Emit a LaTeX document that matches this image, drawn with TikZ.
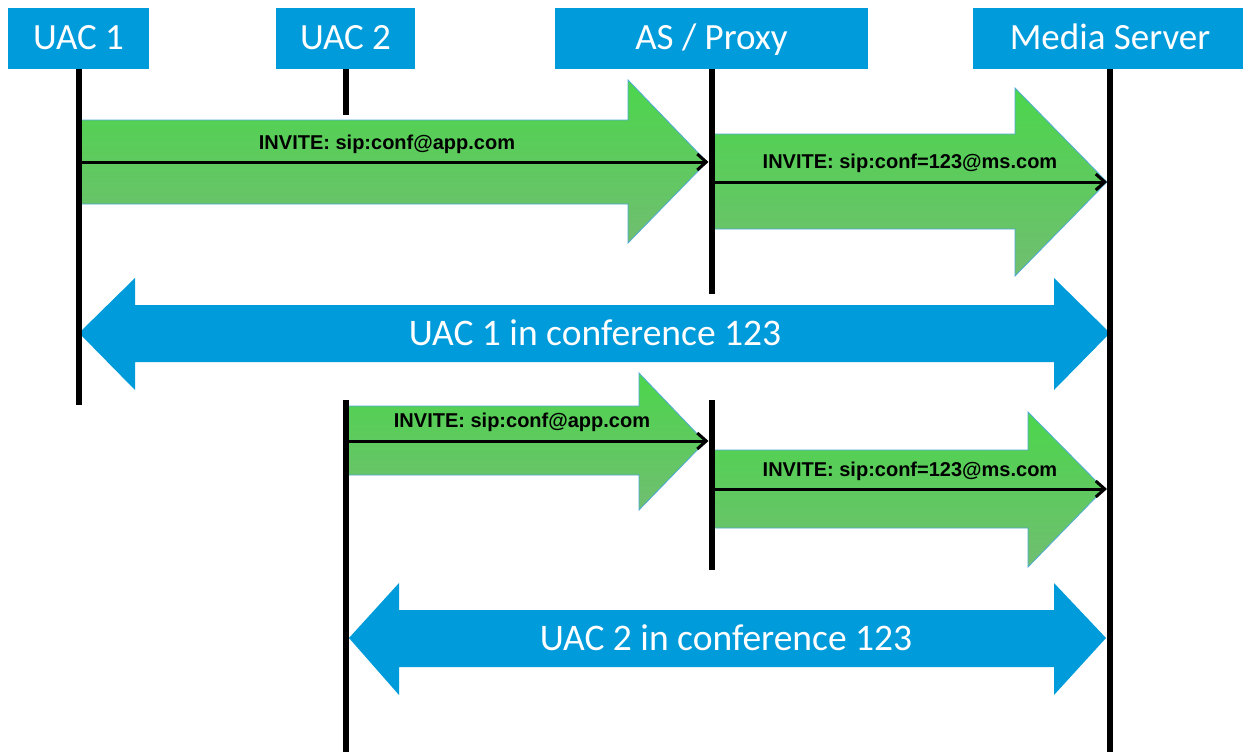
\documentclass[tikz,border=0pt]{standalone}
\usepackage{fontspec}
\setmainfont{Carlito}
\newfontfamily\arialfont{Liberation Sans}
\usetikzlibrary{arrows.meta}
\definecolor{sipblue}{RGB}{0,155,219}
\definecolor{greentop}{RGB}{76,214,76}
\definecolor{greenbot}{RGB}{112,190,112}
\definecolor{greenedge}{RGB}{80,170,215}
\begin{document}
\begin{tikzpicture}[x=1pt,y=-1pt,
	head/.style={fill=sipblue,text=white,minimum height=61pt,inner sep=0pt,
		text height=23pt,text depth=0pt,font=\fontsize{37}{42}\selectfont},
	life/.style={line width=6pt},
	msg/.style={line width=3pt,shorten >=3pt,-{Straight Barb[length=9pt,width=16pt]}},
	fatgreen/.style={draw=greenedge,line width=0.8pt,top color=greentop,bottom color=greenbot},
	fatblue/.style={fill=sipblue},
	invite/.style={font=\arialfont\bfseries\fontsize{20}{23}\selectfont},
	conf/.style={text=white,font=\fontsize{37.5}{42}\selectfont}]
	
	\useasboundingbox (0,0) rectangle (1243,752);
	
	\node[head,minimum width=141pt] (uac1) at (78.5,38.5) {UAC 1};
	\node[head,minimum width=139pt] (uac2) at (345.5,38.5) {UAC 2};
	\node[head,minimum width=313pt] (proxy) at (711.5,38.5) {AS / Proxy};
	\node[head,minimum width=274pt] (media) at (1110,38.5) {Media Server};
	
	\path[fatgreen] (80,120) -- (628,120) -- (628,80) -- (707,162) -- (628,243) -- (628,204) -- (80,204) -- cycle;
	\path[fatgreen] (713,134) -- (1015,134) -- (1015,88) -- (1107,182) -- (1015,276) -- (1015,229) -- (713,229) -- cycle;
	\path[fatblue] (79,333) -- (135,278) -- (135,305) -- (1054,305) -- (1054,278) -- (1110,333)
		-- (1054,390) -- (1054,362) -- (135,362) -- (135,390) -- cycle;
	\path[fatgreen] (347,406) -- (639,406) -- (639,373) -- (705,442) -- (639,510) -- (639,475) -- (347,475) -- cycle;
	\path[fatgreen] (713,450) -- (1028,450) -- (1028,412) -- (1104,489) -- (1028,567) -- (1028,528) -- (713,528) -- cycle;
	\path[fatblue] (349,638) -- (399,583) -- (399,610) -- (1054,610) -- (1054,583) -- (1106,638)
		-- (1054,695) -- (1054,667) -- (399,667) -- (399,695) -- cycle;
	
	\draw[life] (uac1.south) -- (uac1 |- 0,405);
	\draw[life] (uac2.south) -- (uac2 |- 0,115);
	\draw[life] (uac2 |- 0,400) -- (uac2 |- 0,752);
	\draw[life] (proxy.south) -- (proxy |- 0,294);
	\draw[life] (proxy |- 0,400) -- (proxy |- 0,570);
	\draw[life] (media.south) -- (media |- 0,752);
	
	\draw[msg] (uac1 |- 0,162) -- (proxy |- 0,162);
	\draw[msg] (proxy |- 0,182) -- (media |- 0,182);
	\draw[msg] (uac2 |- 0,441) -- (proxy |- 0,441);
	\draw[msg] (proxy |- 0,489) -- (media |- 0,489);
	
	\node[invite] (inv1) at (387,144) {INVITE: sip:conf@app.com};
	\node[invite] (inv2) at (910,163) {INVITE: sip:conf=123@ms.com};
	\node[invite] (inv3) at (522,422) {INVITE: sip:conf@app.com};
	\node[invite] (inv4) at (910,471) {INVITE: sip:conf=123@ms.com};
	\node[conf] (conf1) at (595,333) {UAC 1 in conference 123};
	\node[conf] (conf2) at (726,638) {UAC 2 in conference 123};
	
\end{tikzpicture}
\end{document}
